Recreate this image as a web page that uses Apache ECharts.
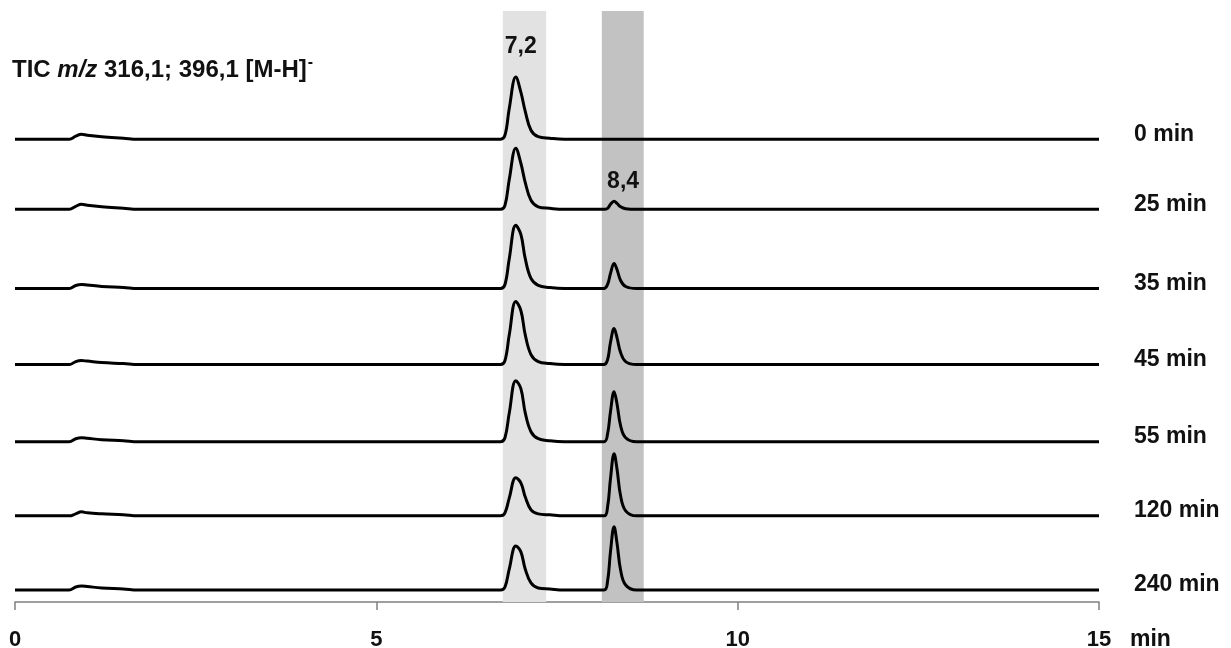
<!DOCTYPE html>
<html>
<head>
<meta charset="utf-8">
<script src="https://cdn.jsdelivr.net/npm/echarts@6/dist/echarts.min.js"></script>
<style>
  html, body { margin: 0; padding: 0; background: #fff; }
  #chart { width: 1231px; height: 648px; }
</style>
</head>
<body>
<div id="chart"></div>
<script>
// retention time grid (min)
const times = [0, 0.75, 0.84, 0.92, 1.0, 1.2, 1.5, 1.7,
  6.72, 6.78, 6.84, 6.93, 7.0, 7.06, 7.14, 7.24, 7.4, 7.6,
  8.15, 8.2, 8.24, 8.29, 8.33, 8.38, 8.45, 8.6, 15];

// sampling times of the reaction
const traceLabels = ['0 min', '25 min', '35 min', '45 min', '55 min', '120 min', '240 min'];

// vertical offset of each trace in the stack
const traceOffsets = [462, 392, 313, 237, 160, 86, 12];

// TIC intensity (arbitrary units), one row per trace, aligned with times
const t0   = [0, 0, 3, 5, 4, 2.5, 1, 0,   0, 4, 31, 62, 47, 28, 9, 2.5, 1, 0,   0, 0, 0, 0, 0, 0, 0, 0,   0];
const t25  = [0, 0, 3, 5, 4, 2.5, 1, 0,   0, 4, 30, 61, 46, 27, 9, 2.5, 1, 0,   0, 1, 5, 8, 6, 2.5, 0.6, 0,   0];
const t35  = [0, 0, 3, 4, 3.5, 2, 1, 0,   0, 4, 30, 63, 54, 30, 10, 3, 1, 0,    0, 4, 15, 25, 19, 8, 2, 0,   0];
const t45  = [0, 0, 3, 4, 3.5, 2, 1, 0,   0, 4, 30, 63, 54, 30, 10, 3, 1, 0,    0, 5, 22, 36, 27, 12, 3, 0,   0];
const t55  = [0, 0, 3, 4, 3.5, 2, 1, 0,   0, 4, 29, 61, 53, 29, 10, 3, 1, 0,    0, 8, 30, 50, 38, 16, 4, 0,   0];
const t120 = [0, 0, 2, 4, 3, 2, 1, 0,     0, 3, 18, 38, 33, 19, 6, 2, 1, 0,     0, 9, 37, 62, 47, 20, 5, 0,   0];
const t240 = [0, 0, 3, 4, 3.5, 2, 1, 0,   0, 3, 21, 44, 38, 21, 7, 2, 1, 0,     0, 9, 38, 63, 47, 20, 5, 0,   0];
const traces = [t0, t25, t35, t45, t55, t120, t240];

// highlighted retention windows (min) and their peak labels
const band1 = [6.75, 7.35];
const band2 = [8.12, 8.7];
const peakLabels = ['7,2', '8,4'];
const peak1Idx = 11;   // apex index of first peak in times
const peak2Idx = 21;   // apex index of second peak in times

const xTicks = [0, 5, 10, 15];

const FONT = '"Liberation Sans", Arial, sans-serif';

const chart = echarts.init(document.getElementById('chart'), null, { renderer: 'canvas' });

const bold = (size) => ({ fontFamily: FONT, fontWeight: 'bold', fontSize: size, color: '#111' });

const traceSeries = traces.map((vals, i) => ({
  type: 'line',
  name: traceLabels[i],
  z: 3,
  data: times.map((t, j) => [t, traceOffsets[i] + vals[j]]),
  smooth: 0.4,
  showSymbol: false,
  lineStyle: { color: '#000', width: 3 },
  endLabel: {
    show: true,
    formatter: '{a}',
    distance: 35,
    offset: [0, -5],
    ...bold(23)
  }
}));

// peak annotations
traceSeries[0].markPoint = {
  symbol: 'circle',
  symbolSize: 0,
  silent: true,
  label: { show: true, position: 'top', distance: 19, offset: [5, 0], formatter: peakLabels[0], ...bold(23) },
  data: [{ coord: [times[peak1Idx], traceOffsets[0] + t0[peak1Idx]] }]
};
traceSeries[1].markPoint = {
  symbol: 'circle',
  symbolSize: 0,
  silent: true,
  label: { show: true, position: 'top', distance: 8, offset: [9, 0], formatter: peakLabels[1], ...bold(23) },
  data: [{ coord: [times[peak2Idx], traceOffsets[1] + t25[peak2Idx]] }]
};

chart.setOption({
  animation: false,
  backgroundColor: '#fff',
  title: {
    left: 12,
    top: 55,
    padding: 0,
    text: '{b|TIC }{i|m/z}{b| 316,1; 396,1 [M-H]}{s|-}',
    textStyle: {
      rich: {
        b: bold(24),
        i: { ...bold(24), fontStyle: 'italic' },
        s: { ...bold(16), padding: [0, 0, 14, 1] }
      }
    }
  },
  grid: { left: 15, right: 132, top: 11, bottom: 46, outerBoundsMode: 'none' },
  xAxis: {
    type: 'value',
    min: 0,
    max: 15,
    interval: 5,
    name: 'min',
    nameLocation: 'end',
    nameGap: 31,
    nameTextStyle: { ...bold(23), verticalAlign: 'top', padding: [26, 0, 0, 0] },
    axisLine: { lineStyle: { color: '#808080', width: 1.5 } },
    axisTick: { show: true, length: 8, lineStyle: { color: '#808080', width: 1.5 } },
    axisLabel: {
      margin: 27,
      formatter: (v) => (xTicks.includes(v) ? String(v) : ''),
      ...bold(22)
    },
    splitLine: { show: false }
  },
  yAxis: {
    type: 'value',
    min: 0,
    max: 590,
    show: false
  },
  series: [
    {
      type: 'line',
      z: 1,
      data: [],
      markArea: {
        silent: true,
        data: [
          [{ xAxis: band1[0], itemStyle: { color: '#e2e2e2' } }, { xAxis: band1[1] }],
          [{ xAxis: band2[0], itemStyle: { color: '#c2c2c2' } }, { xAxis: band2[1] }]
        ]
      }
    },
    ...traceSeries
  ]
});
</script>
</body>
</html>
